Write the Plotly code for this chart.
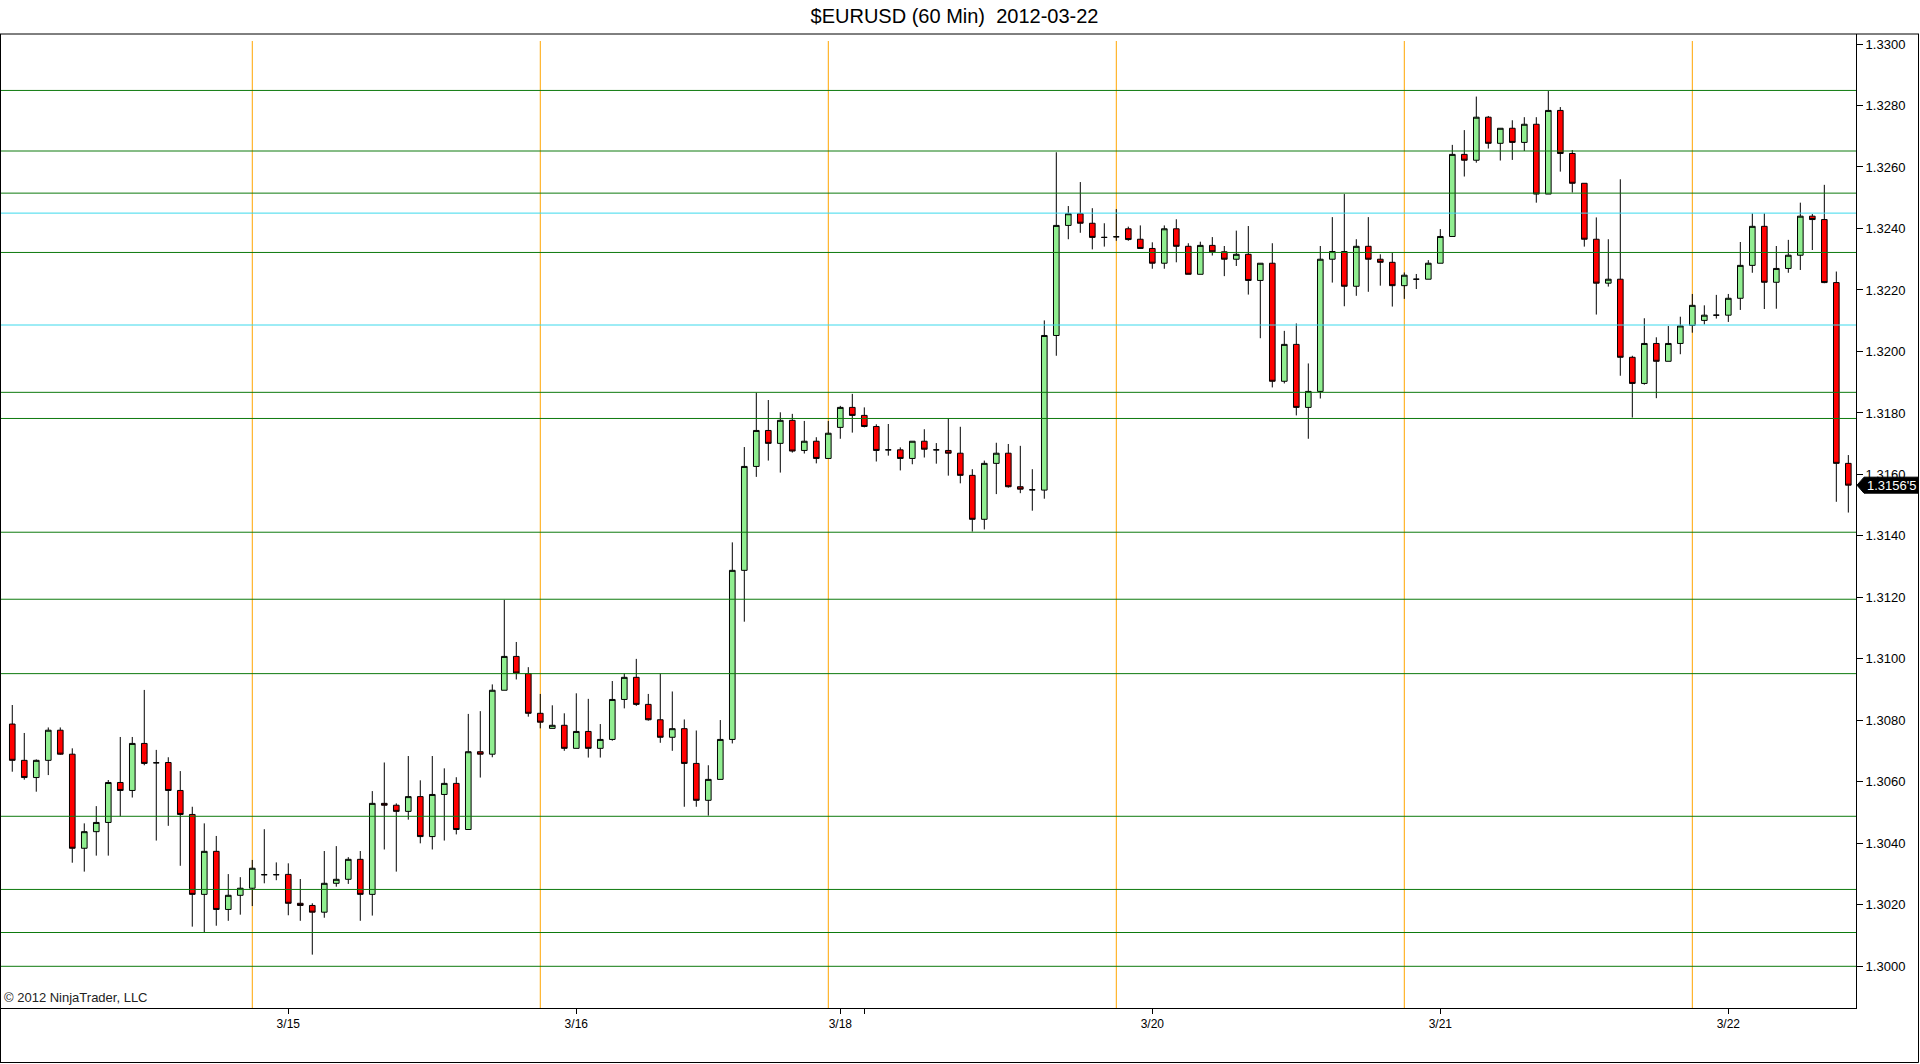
import plotly.graph_objects as go

# ---------------- data ----------------
bar_index = list(range(154))

open_ = [1.30788, 1.30670, 1.30614, 1.30670, 1.30768, 1.30690, 1.30384, 1.30438, 1.30468, 1.30598,
         1.30572, 1.30725, 1.30662, 1.30663, 1.30572, 1.30494, 1.30234, 1.30374, 1.30185, 1.30231,
         1.30254, 1.30298, 1.30298, 1.30299, 1.30205, 1.30198, 1.30176, 1.30270, 1.30283, 1.30348,
         1.30234, 1.30530, 1.30524, 1.30504, 1.30552, 1.30422, 1.30559, 1.30595, 1.30445, 1.30698,
         1.30690, 1.30898, 1.31008, 1.30952, 1.30823, 1.30774, 1.30784, 1.30709, 1.30764, 1.30709,
         1.30738, 1.30868, 1.30940, 1.30852, 1.30802, 1.30745, 1.30773, 1.30660, 1.30540, 1.30608,
         1.30738, 1.31288, 1.31626, 1.31743, 1.31701, 1.31776, 1.31678, 1.31708, 1.31652, 1.31753,
         1.31818, 1.31792, 1.31756, 1.31680, 1.31680, 1.31652, 1.31708, 1.31680, 1.31678, 1.31669,
         1.31597, 1.31454, 1.31636, 1.31669, 1.31560, 1.31550, 1.31549, 1.32052, 1.32410, 1.32448,
         1.32417, 1.32371, 1.32373, 1.32399, 1.32365, 1.32335, 1.32287, 1.32399, 1.32342, 1.32251,
         1.32345, 1.32324, 1.32300, 1.32316, 1.32231, 1.32287, 1.31903, 1.32023, 1.31818, 1.31870,
         1.32300, 1.32325, 1.32212, 1.32342, 1.32300, 1.32290, 1.32214, 1.32235, 1.32235, 1.32287,
         1.32374, 1.32641, 1.32622, 1.32762, 1.32677, 1.32726, 1.32680, 1.32739, 1.32512, 1.32784,
         1.32644, 1.32547, 1.32365, 1.32222, 1.32235, 1.31981, 1.31896, 1.32026, 1.31968, 1.32026,
         1.32085, 1.32101, 1.32118, 1.32118, 1.32173, 1.32280, 1.32407, 1.32225, 1.32270, 1.32313,
         1.32440, 1.32429, 1.32224, 1.31636]

high = [1.30850, 1.30759, 1.30673, 1.30777, 1.30777, 1.30709, 1.30465, 1.30521, 1.30606, 1.30746,
        1.30746, 1.30899, 1.30704, 1.30680, 1.30635, 1.30519, 1.30465, 1.30424, 1.30300, 1.30290,
        1.30346, 1.30446, 1.30338, 1.30335, 1.30284, 1.30205, 1.30375, 1.30391, 1.30355, 1.30375,
        1.30570, 1.30663, 1.30530, 1.30684, 1.30605, 1.30684, 1.30644, 1.30615, 1.30821, 1.30830,
        1.30917, 1.31192, 1.31055, 1.30973, 1.30886, 1.30849, 1.30823, 1.30888, 1.30870, 1.30788,
        1.30928, 1.30953, 1.31000, 1.30886, 1.30952, 1.30894, 1.30803, 1.30767, 1.30654, 1.30801,
        1.31379, 1.31689, 1.31866, 1.31842, 1.31802, 1.31797, 1.31774, 1.31721, 1.31774, 1.31823,
        1.31862, 1.31818, 1.31763, 1.31764, 1.31688, 1.31708, 1.31747, 1.31702, 1.31783, 1.31755,
        1.31617, 1.31645, 1.31703, 1.31699, 1.31693, 1.31617, 1.32101, 1.32648, 1.32473, 1.32551,
        1.32466, 1.32417, 1.32463, 1.32406, 1.32410, 1.32355, 1.32410, 1.32430, 1.32352, 1.32357,
        1.32372, 1.32343, 1.32393, 1.32408, 1.32287, 1.32352, 1.32067, 1.32091, 1.31961, 1.32343,
        1.32437, 1.32512, 1.32365, 1.32437, 1.32316, 1.32321, 1.32257, 1.32252, 1.32297, 1.32398,
        1.32672, 1.32720, 1.32829, 1.32766, 1.32726, 1.32752, 1.32762, 1.32762, 1.32847, 1.32795,
        1.32655, 1.32547, 1.32436, 1.32365, 1.32560, 1.31986, 1.32108, 1.32046, 1.32083, 1.32113,
        1.32187, 1.32150, 1.32184, 1.32187, 1.32356, 1.32449, 1.32449, 1.32343, 1.32363, 1.32484,
        1.32447, 1.32542, 1.32260, 1.31663]

low = [1.30633, 1.30607, 1.30568, 1.30622, 1.30688, 1.30337, 1.30308, 1.30360, 1.30360, 1.30488,
       1.30549, 1.30654, 1.30409, 1.30457, 1.30327, 1.30129, 1.30110, 1.30132, 1.30148, 1.30168,
       1.30196, 1.30270, 1.30280, 1.30166, 1.30148, 1.30038, 1.30158, 1.30259, 1.30268, 1.30148,
       1.30165, 1.30380, 1.30308, 1.30477, 1.30400, 1.30380, 1.30409, 1.30429, 1.30445, 1.30614,
       1.30680, 1.30898, 1.30933, 1.30812, 1.30774, 1.30774, 1.30701, 1.30709, 1.30679, 1.30679,
       1.30734, 1.30839, 1.30847, 1.30799, 1.30727, 1.30701, 1.30519, 1.30519, 1.30490, 1.30608,
       1.30725, 1.31121, 1.31592, 1.31645, 1.31606, 1.31671, 1.31668, 1.31636, 1.31652, 1.31716,
       1.31736, 1.31753, 1.31642, 1.31661, 1.31613, 1.31633, 1.31655, 1.31635, 1.31596, 1.31571,
       1.31414, 1.31421, 1.31536, 1.31557, 1.31539, 1.31482, 1.31521, 1.31986, 1.32365, 1.32386,
       1.32332, 1.32341, 1.32360, 1.32360, 1.32335, 1.32269, 1.32269, 1.32290, 1.32251, 1.32251,
       1.32312, 1.32245, 1.32278, 1.32185, 1.32043, 1.31883, 1.31896, 1.31792, 1.31716, 1.31847,
       1.32224, 1.32147, 1.32181, 1.32194, 1.32214, 1.32146, 1.32171, 1.32203, 1.32235, 1.32287,
       1.32374, 1.32569, 1.32614, 1.32660, 1.32621, 1.32623, 1.32652, 1.32484, 1.32512, 1.32585,
       1.32517, 1.32341, 1.32120, 1.32211, 1.31921, 1.31785, 1.31892, 1.31848, 1.31968, 1.31991,
       1.32061, 1.32088, 1.32107, 1.32096, 1.32135, 1.32256, 1.32138, 1.32139, 1.32256, 1.32265,
       1.32330, 1.32222, 1.31511, 1.31476]

close = [1.30670, 1.30614, 1.30670, 1.30768, 1.30690, 1.30384, 1.30438, 1.30468, 1.30598, 1.30572,
         1.30725, 1.30660, 1.30662, 1.30572, 1.30494, 1.30234, 1.30374, 1.30185, 1.30231, 1.30254,
         1.30319, 1.30298, 1.30298, 1.30205, 1.30198, 1.30176, 1.30270, 1.30283, 1.30348, 1.30234,
         1.30530, 1.30524, 1.30504, 1.30552, 1.30422, 1.30559, 1.30595, 1.30445, 1.30698, 1.30690,
         1.30898, 1.31008, 1.30954, 1.30823, 1.30794, 1.30784, 1.30709, 1.30764, 1.30709, 1.30738,
         1.30868, 1.30940, 1.30852, 1.30802, 1.30745, 1.30773, 1.30660, 1.30540, 1.30608, 1.30738,
         1.31288, 1.31626, 1.31743, 1.31701, 1.31776, 1.31676, 1.31708, 1.31652, 1.31734, 1.31818,
         1.31792, 1.31756, 1.31678, 1.31680, 1.31652, 1.31708, 1.31682, 1.31680, 1.31669, 1.31597,
         1.31454, 1.31636, 1.31669, 1.31560, 1.31552, 1.31550, 1.32052, 1.32410, 1.32448, 1.32417,
         1.32371, 1.32371, 1.32373, 1.32364, 1.32335, 1.32287, 1.32399, 1.32342, 1.32251, 1.32345,
         1.32324, 1.32300, 1.32316, 1.32231, 1.32287, 1.31903, 1.32023, 1.31818, 1.31870, 1.32300,
         1.32325, 1.32212, 1.32342, 1.32300, 1.32290, 1.32214, 1.32248, 1.32235, 1.32287, 1.32374,
         1.32641, 1.32622, 1.32762, 1.32677, 1.32726, 1.32680, 1.32739, 1.32512, 1.32784, 1.32644,
         1.32547, 1.32365, 1.32222, 1.32235, 1.31981, 1.31896, 1.32026, 1.31968, 1.32026, 1.32083,
         1.32150, 1.32118, 1.32118, 1.32173, 1.32280, 1.32407, 1.32225, 1.32270, 1.32313, 1.32440,
         1.32429, 1.32224, 1.31636, 1.31565]

green_levels = [1.32849, 1.32652, 1.32515, 1.32322, 1.31867, 1.31782, 1.31412,
                1.31194, 1.30952, 1.30488, 1.30250, 1.30110, 1.30000]
cyan_levels = [1.32450, 1.32086]
session_breaks = [20, 44, 68, 92, 116, 140]

date_tick_pos = [23, 47, 69, 71, 95, 119, 143]
date_tick_text = ["3/15", "3/16", "3/18", "", "3/20", "3/21", "3/22"]

price_ticks = [1.3000 + 0.002 * k for k in range(16)]
last_price = 1.31565
last_price_text = "1.3156'5"

title_text = "$EURUSD (60 Min)  2012-03-22"
copyright_text = "\u00a9 2012 NinjaTrader, LLC"

# ---------------- layout geometry ----------------
W, H = 1920, 1064
ML, MR, MT, MB = 1, 64, 34, 56
PW, PH = W - ML - MR, H - MT - MB
FONT = "Arial, Liberation Sans, sans-serif"


def px_x(p):
    return (p - ML) / PW


def px_y(p):
    return (H - MB - p) / PH


fig = go.Figure()
fig.add_trace(go.Candlestick(
    x=bar_index, open=open_, high=high, low=low, close=close,
    increasing=dict(fillcolor="#90EE90", line=dict(color="black", width=1)),
    decreasing=dict(fillcolor="#FF0000", line=dict(color="black", width=1)),
    whiskerwidth=0, showlegend=False, hoverinfo="skip",
))

shapes = []
for b in session_breaks:
    shapes.append(dict(type="line", xref="x", yref="paper", x0=b, x1=b,
                       y0=0, y1=px_y(41), line=dict(color="#FFA500", width=1),
                       layer="below"))
for lv in green_levels:
    shapes.append(dict(type="line", xref="paper", yref="y", x0=0, x1=1,
                       y0=lv, y1=lv, line=dict(color="#0E7A0E", width=1),
                       layer="above"))
for lv in cyan_levels:
    shapes.append(dict(type="line", xref="paper", yref="y", x0=0, x1=1,
                       y0=lv, y1=lv, line=dict(color="#3CD9EC", width=1),
                       layer="above"))

# outer frame and title separator
frame = dict(color="black", width=1)
shapes += [
    dict(type="line", xref="paper", yref="paper", x0=px_x(0), x1=px_x(1919),
         y0=1, y1=1, line=frame, layer="above"),
    dict(type="line", xref="paper", yref="paper", x0=px_x(0.5), x1=px_x(0.5),
         y0=1, y1=px_y(1062.5), line=frame, layer="above"),
    dict(type="line", xref="paper", yref="paper", x0=px_x(1918.5), x1=px_x(1918.5),
         y0=1, y1=px_y(1062.5), line=frame, layer="above"),
    dict(type="line", xref="paper", yref="paper", x0=px_x(0), x1=px_x(1918.5),
         y0=px_y(1062.5), y1=px_y(1062.5), line=frame, layer="above"),
]

# last price tag
shapes.append(dict(type="path", xref="paper", yref="y",
                   xsizemode="pixel", ysizemode="pixel",
                   xanchor=1, yanchor=last_price,
                   path="M 1,0 L 8,8 L 62,8 L 62,-8 L 8,-8 Z",
                   fillcolor="black", line=dict(color="black", width=1),
                   layer="above"))

annotations = [
    dict(text=last_price_text, xref="paper", yref="y", x=1, y=last_price,
         xanchor="left", yanchor="middle", xshift=9, showarrow=False,
         font=dict(family=FONT, size=13, color="white")),
    dict(text=copyright_text, xref="paper", yref="paper", x=0, y=0,
         xanchor="left", yanchor="bottom", xshift=1, yshift=1, showarrow=False,
         font=dict(family=FONT, size=13, color="#222222")),
]

fig.update_layout(
    width=W, height=H,
    margin=dict(l=ML, r=MR, t=MT, b=MB),
    paper_bgcolor="white", plot_bgcolor="white",
    title=dict(text=title_text, x=954.5 / W, xref="container", xanchor="center",
               y=1 - 16 / H, yref="container", yanchor="middle",
               font=dict(family=FONT, size=20, color="black")),
    font=dict(family=FONT, color="black"),
    boxgap=0.33,
    shapes=shapes, annotations=annotations,
    xaxis=dict(range=[-0.94, 153.64], rangeslider=dict(visible=False),
               showgrid=False, zeroline=False, showline=True, linecolor="black",
               linewidth=1, ticks="outside", ticklen=5, tickcolor="black",
               tickvals=date_tick_pos, ticktext=date_tick_text,
               tickfont=dict(family=FONT, size=12, color="black")),
    yaxis=dict(side="right", range=[1.298644, 1.330326], showgrid=False,
               zeroline=False, showline=True, linecolor="black", linewidth=1,
               ticks="outside", ticklen=6, tickcolor="black",
               tickvals=price_ticks, tickformat=".4f",
               tickfont=dict(family=FONT, size=13, color="black")),
)

fig.write_html(
    "out.html",
    config={"displayModeBar": False},
    post_script="document.body.style.margin='0';document.body.style.overflow='hidden';",
)
